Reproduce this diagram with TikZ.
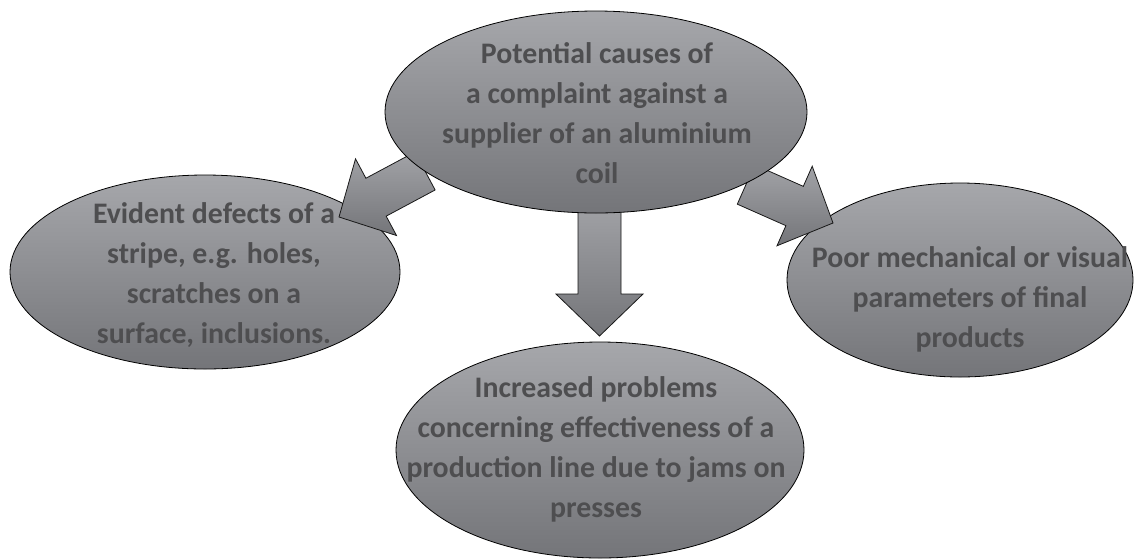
\documentclass[tikz,border=0pt]{standalone}
\usepackage{fontspec}
\setmainfont{Carlito}
\usetikzlibrary{shapes.geometric,calc}
\definecolor{gtop}{RGB}{166,167,171}
\definecolor{gbot}{RGB}{116,117,121}
\definecolor{atop}{RGB}{162,163,167}
\definecolor{abot}{RGB}{116,117,121}
\definecolor{txtc}{RGB}{78,78,80}
\tikzset{
  oval/.style={ellipse, draw=black, line width=0.8pt, top color=gtop, bottom color=gbot, inner sep=0pt},
  lbl/.style={anchor=base, align=center, text=txtc, inner sep=0pt, font=\fontsize{29.8}{40}\selectfont\bfseries},
  arr/.style={draw=black!90, line width=0.8pt, line join=miter, top color=atop, bottom color=abot}
}
\newcommand\blockarrow[2]{%
  \coordinate (hb) at ($(#2)!42pt!(#1)$);
  \draw[arr] ($(#1)!21.5pt!90:(#2)$) -- ($(hb)!21.5pt!90:(#2)$) -- ($(hb)!43.5pt!90:(#2)$)
    -- (#2) -- ($(hb)!43.5pt!-90:(#2)$) -- ($(hb)!21.5pt!-90:(#2)$) -- ($(#1)!21.5pt!-90:(#2)$) -- cycle;
}
\begin{document}
\begin{tikzpicture}[x=1pt,y=-1pt]
\useasboundingbox (0,0) rectangle (1134,558);
\clip (0,0) rectangle (1134,558);
% target ellipses
\node[oval, minimum width=390pt, minimum height=194pt] (left) at (205,272) {};
\node[oval, minimum width=346pt, minimum height=194pt] (right) at (960,280) {};
\node[oval, minimum width=408pt, minimum height=216pt] (bottom) at (600,450) {};
% arrows
\coordinate (aLb) at (425,171);
\coordinate (aLt) at (339,217);
\coordinate (aRb) at (746,184.5);
\coordinate (aRt) at (833,223);
\coordinate (aDb) at (599.5,200);
\coordinate (aDt) at (599.5,336);
\blockarrow{aLb}{aLt}
\blockarrow{aRb}{aRt}
\blockarrow{aDb}{aDt}
% source ellipse
\node[oval, minimum width=422pt, minimum height=202pt] (top) at (596,112) {};
% labels (anchored at the baseline of the last line)
\node[lbl] (ttop) at (597,183) {Potential causes of\\a complaint against a\\supplier of an aluminium\\coil};
\node[lbl] (tleft) at (214,343) {Evident defects of a\\stripe, e.g. holes,\\scratches on a\\surface, inclusions.};
\node[lbl] (tright) at (970,347) {Poor mechanical or visual\\parameters of final\\products};
\node[lbl] (tbottom) at (596,517) {Increased problems\\concerning effectiveness of a\\production line due to jams on\\presses};
\end{tikzpicture}
\end{document}
